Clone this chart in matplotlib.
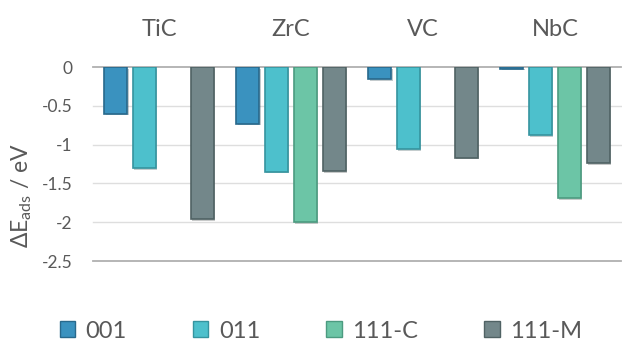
import numpy as np
import matplotlib
matplotlib.use("Agg")
import matplotlib.pyplot as plt
import matplotlib.patheffects as pe
from matplotlib.patches import Patch
from matplotlib.transforms import blended_transform_factory

plt.rcParams['font.family'] = ['Lato', 'DejaVu Sans']
plt.rcParams['mathtext.fontset'] = 'custom'
plt.rcParams['mathtext.rm'] = 'Lato'
plt.rcParams['mathtext.it'] = 'Lato'

# adsorption energies (eV) per carbide and surface
carbides = ["TiC", "ZrC", "VC", "NbC"]
surfaces = ["001", "011", "111-C", "111-M"]
e_001 = [-0.60, -0.73, -0.16, -0.02]
e_011 = [-1.30, -1.35, -1.06, -0.88]
e_111c = [np.nan, -2.00, np.nan, -1.69]
e_111m = [-1.96, -1.34, -1.17, -1.24]
yticks = [0, -0.5, -1, -1.5, -2, -2.5]

faces = ["#3a92bf", "#4dc0cc", "#6cc5a6", "#73878a"]
edges = ["#28698c", "#35949f", "#4c9b80", "#506264"]
text_col = "#595959"

W, H = 622, 344
fig = plt.figure(figsize=(W / 100, H / 100), dpi=100)
ax = fig.add_axes([93 / W, (H - 261) / H, (621 - 93) / W, (261 - 67) / H])

x = np.arange(len(carbides))
slot = 0.2174
bw = 0.174
series = [e_001, e_011, e_111c, e_111m]
shadow = [pe.SimplePatchShadow(offset=(0.8, -1.2), alpha=0.25), pe.Normal()]
for i, vals in enumerate(series):
    bars = ax.bar(x + (i - 1.5) * slot, vals, bw, color=faces[i],
                  edgecolor=edges[i], linewidth=1.2, zorder=3)
    for b in bars:
        b.set_path_effects(shadow)

ax.set_xlim(-0.5, 3.5)
ax.set_ylim(-2.5, 0)
ax.set_yticks(yticks)
ax.set_yticklabels([f"{t:g}" for t in yticks])
ax.set_xticks([])
for t in yticks:
    c = "#b0b0b0" if t in (0, -2.5) else "#dedede"
    ax.axhline(t, color=c, lw=1.3 if t in (0, -2.5) else 1.0, zorder=1, clip_on=False)
for s in ax.spines.values():
    s.set_visible(False)
ax.tick_params(axis='y', length=0, pad=15, labelsize=12.5, labelcolor=text_col)

# carbide names above each group
tr = blended_transform_factory(ax.transData, fig.transFigure)
for xi, name in zip(x, carbides):
    ax.text(xi, 1 - 29 / H, name, transform=tr, ha='center', va='center',
            fontsize=17, color=text_col)

fig.text(22 / W, 1 - 196 / H, r"ΔE$_{\rm ads}$ / eV", rotation=90,
         ha='center', va='center', fontsize=16.5, color=text_col)

handles = [Patch(facecolor=faces[i], edgecolor=edges[i], linewidth=1.0)
           for i in range(len(surfaces))]
leg = fig.legend(handles, surfaces, loc='center', ncol=4,
                 bbox_to_anchor=(321 / W, 1 - 331 / H), frameon=False,
                 fontsize=17, handlelength=0.65, handleheight=0.65,
                 handletextpad=0.45, columnspacing=2.8, borderaxespad=0)
for t in leg.get_texts():
    t.set_color(text_col)

fig.savefig("out.png", dpi=100)
